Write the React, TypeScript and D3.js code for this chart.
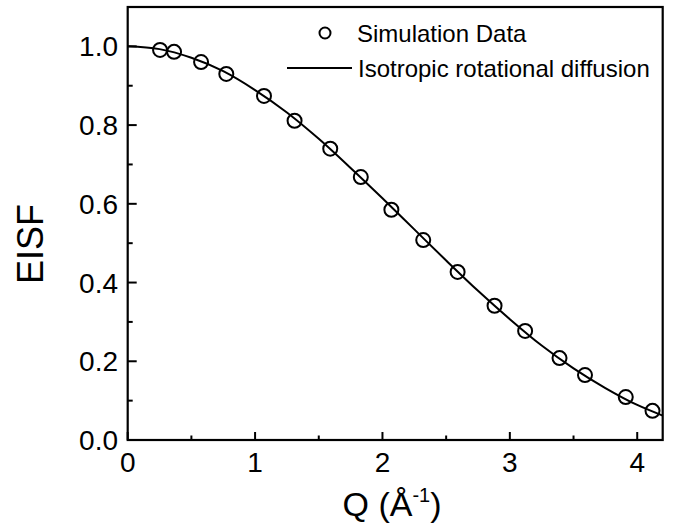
import React from "react";
import * as d3 from "d3";

const simQ = [0.254, 0.364, 0.576, 0.774, 1.07, 1.31, 1.59, 1.83, 2.07, 2.32, 2.59, 2.88, 3.12, 3.39, 3.59, 3.91, 4.12];
const simEISF = [0.991, 0.986, 0.96, 0.93, 0.874, 0.811, 0.74, 0.668, 0.585, 0.508, 0.427, 0.341, 0.277, 0.208, 0.165, 0.109, 0.074];

const fitQ = [0, 0.25, 0.5, 0.75, 1.0, 1.25, 1.5, 1.75, 2.0, 2.25, 2.5, 2.75, 3.0, 3.25, 3.5, 3.75, 4.0, 4.2];
const fitEISF = [1.0, 0.993, 0.971, 0.937, 0.889, 0.832, 0.765, 0.691, 0.614, 0.535, 0.456, 0.379, 0.307, 0.24, 0.182, 0.132, 0.089, 0.062];

const xMajor = [0, 1, 2, 3, 4];
const xMinor = [0.5, 1.5, 2.5, 3.5];
const yMajor = [0, 0.2, 0.4, 0.6, 0.8, 1.0];
const yMinor = [0.1, 0.3, 0.5, 0.7, 0.9];

const legendLabels = ["Simulation Data", "Isotropic rotational diffusion"];

const W = 673, H = 527;
const L = 127.7, R = 662.7, T = 7, B = 440;
const FONT = "'Liberation Sans', Arial, Helvetica, sans-serif";

export default function App() {
  const x = d3.scaleLinear().domain([0, 4.2]).range([L, R]);
  const y = d3.scaleLinear().domain([0, 1.1]).range([B, T]);
  const line = d3
    .line<number>()
    .x((_, i) => x(fitQ[i]))
    .y((d) => y(d))
    .curve(d3.curveMonotoneX);
  const fmtY = d3.format(".1f");

  return (
    <svg width={W} height={H} style={{ position: "absolute", left: 0, top: 0, background: "#fff" }} fontFamily={FONT}>
      <rect x={0} y={0} width={W} height={H} fill="#fff" />
      <defs>
        <clipPath id="plotclip">
          <rect x={L} y={T} width={R - L} height={B - T} />
        </clipPath>
      </defs>
      <path d={line(fitEISF) || ""} fill="none" stroke="#000" strokeWidth={2} clipPath="url(#plotclip)" />
      {simQ.map((q, i) => (
        <circle key={i} cx={x(q)} cy={y(simEISF[i])} r={7} fill="none" stroke="#000" strokeWidth={2} />
      ))}
      <rect x={L} y={T} width={R - L} height={B - T} fill="none" stroke="#000" strokeWidth={2.2} />
      {xMajor.map((v) => (
        <g key={"xM" + v}>
          <line x1={x(v)} x2={x(v)} y1={B} y2={B - 8} stroke="#000" strokeWidth={2} />
          <text x={x(v)} y={472} textAnchor="middle" fontSize={28}>{v}</text>
        </g>
      ))}
      {xMinor.map((v) => (
        <line key={"xm" + v} x1={x(v)} x2={x(v)} y1={B} y2={B - 4.5} stroke="#000" strokeWidth={2} />
      ))}
      {yMajor.map((v) => (
        <g key={"yM" + v}>
          <line x1={L} x2={L + 9} y1={y(v)} y2={y(v)} stroke="#000" strokeWidth={2} />
          <text x={118} y={y(v) + 10} textAnchor="end" fontSize={28}>{fmtY(v)}</text>
        </g>
      ))}
      {yMinor.map((v) => (
        <line key={"ym" + v} x1={L} x2={L + 5} y1={y(v)} y2={y(v)} stroke="#000" strokeWidth={2} />
      ))}
      <text x={392} y={516} textAnchor="middle" fontSize={34}>
        Q (Å<tspan fontSize={20} dy={-14}>-1</tspan><tspan dy={14}>)</tspan>
      </text>
      <text transform={`translate(43,244) rotate(-90)`} textAnchor="middle" fontSize={36}>EISF</text>
      <circle cx={325} cy={33} r={5.5} fill="none" stroke="#000" strokeWidth={2} />
      <text x={357} y={42} fontSize={24}>{legendLabels[0]}</text>
      <line x1={287} x2={352} y1={68} y2={68} stroke="#000" strokeWidth={2} />
      <text x={358} y={77} fontSize={24}>{legendLabels[1]}</text>
    </svg>
  );
}
